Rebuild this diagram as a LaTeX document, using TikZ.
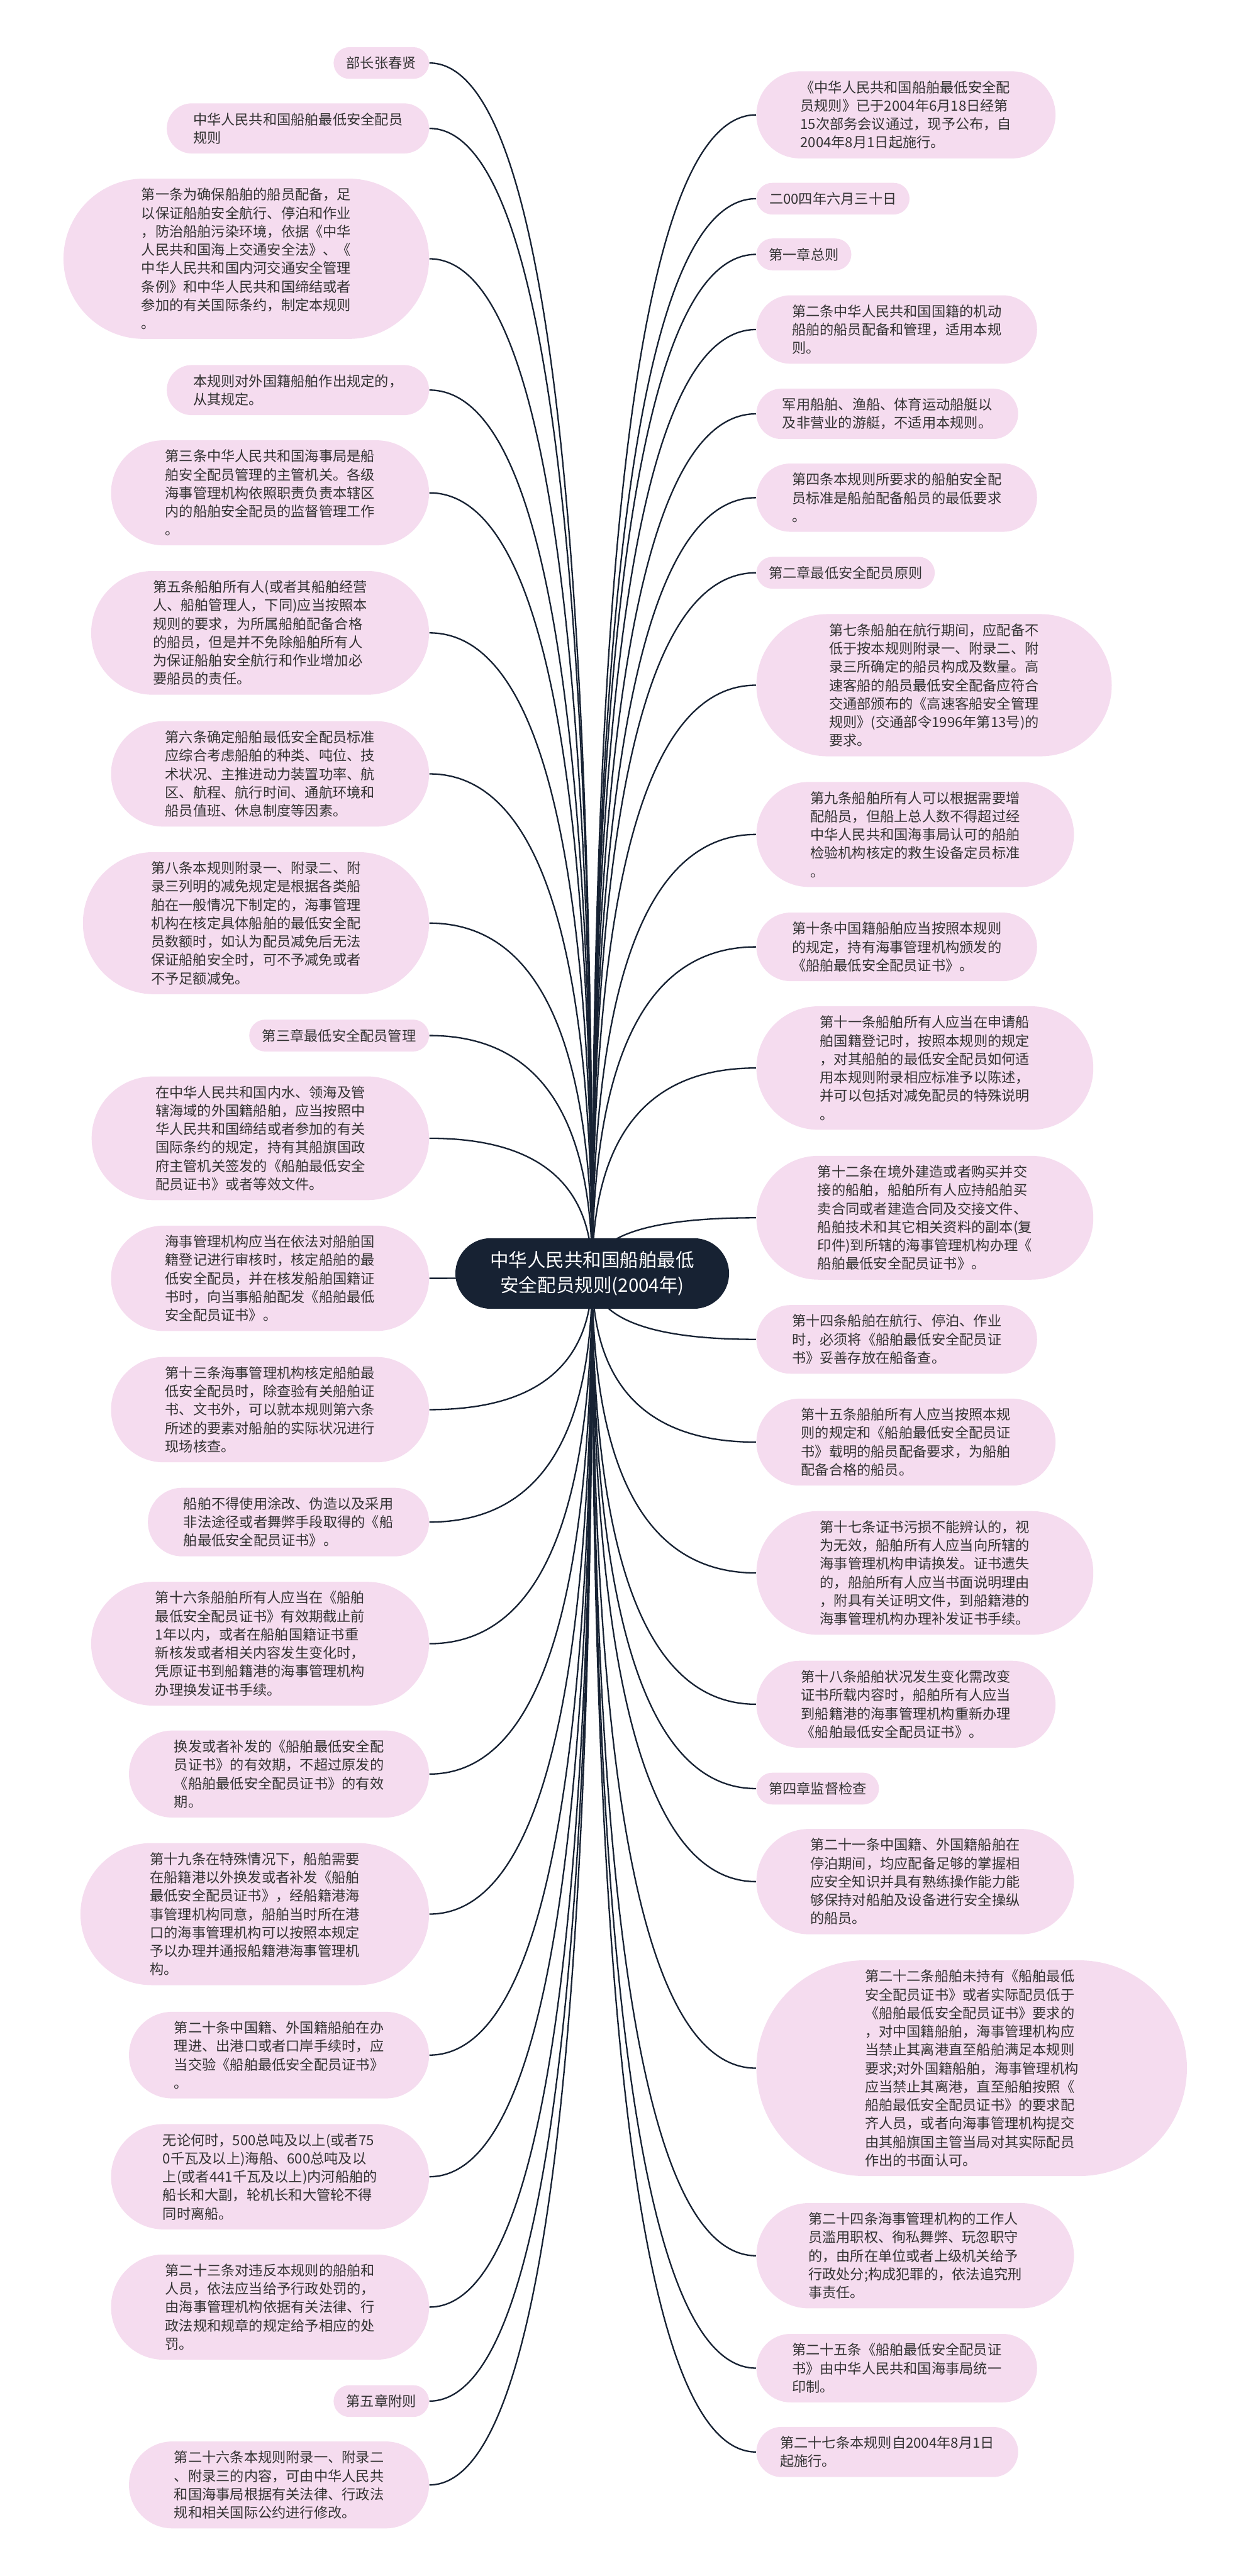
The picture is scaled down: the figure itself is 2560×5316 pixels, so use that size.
\documentclass[tikz,border=0pt]{standalone}
\usepackage{fontspec}
\setmainfont{Noto Sans CJK SC}
\usetikzlibrary{shapes.misc,backgrounds,calc}
\definecolor{mapNavy}{HTML}{172233}
\definecolor{mapPink}{HTML}{F5DCEF}
\definecolor{mapText}{HTML}{333333}
\tikzset{
  leaf/.style={rounded rectangle, fill=mapPink, text=mapText, align=left,
    font=\fontsize{8.2pt}{10.8pt}\selectfont, inner xsep=2.3pt, inner ysep=5.5pt},
  leftleaf/.style={leaf, anchor=east},
  rightleaf/.style={leaf, anchor=west},
  wd/.style={minimum width=#1cm},
  hub/.style={rounded rectangle, fill=mapNavy, text=white, align=center,
    font=\fontsize{10.9pt}{14.7pt}\selectfont, inner xsep=3.5pt, inner ysep=7.7pt,
    minimum width=5.89cm},
  link/.style={mapNavy, line width=0.85pt},
}

\begin{document}
\begin{tikzpicture}[x=0.01cm, y=-0.01cm, line cap=round, line join=round]
  \useasboundingbox (0,0) rectangle (2560,5316);

  % --- centre ---
  \node[hub] (root) at (1222,2628) {中华人民共和国船舶最低\\安全配员规则(2004年)};

  % --- left branch ---
  \node[leftleaf, wd=2.13] (l1) at (886,130) {部长张春贤};
  \node[leftleaf, wd=5.57] (l2) at (886,265) {中华人民共和国船舶最低安全配员\\规则};
  \node[leftleaf, wd=7.70] (l3) at (886,534) {第一条为确保船舶的船员配备，足\\以保证船舶安全航行、停泊和作业\\，防治船舶污染环境，依据《中华\\人民共和国海上交通安全法》、《\\中华人民共和国内河交通安全管理\\条例》和中华人民共和国缔结或者\\参加的有关国际条约，制定本规则\\。};
  \node[leftleaf, wd=5.57] (l4) at (886,805) {本规则对外国籍船舶作出规定的，\\从其规定。};
  \node[leftleaf, wd=6.72] (l5) at (886,1017) {第三条中华人民共和国海事局是船\\舶安全配员管理的主管机关。各级\\海事管理机构依照职责负责本辖区\\内的船舶安全配员的监督管理工作\\。};
  \node[leftleaf, wd=7.13] (l6) at (886,1306) {第五条船舶所有人(或者其船舶经营\\人、船舶管理人，下同)应当按照本\\规则的要求，为所属船舶配备合格\\的船员，但是并不免除船舶所有人\\为保证船舶安全航行和作业增加必\\要船员的责任。};
  \node[leftleaf, wd=6.72] (l7) at (886,1597) {第六条确定船舶最低安全配员标准\\应综合考虑船舶的种类、吨位、技\\术状况、主推进动力装置功率、航\\区、航程、航行时间、通航环境和\\船员值班、休息制度等因素。};
  \node[leftleaf, wd=7.30] (l8) at (886,1905) {第八条本规则附录一、附录二、附\\录三列明的减免规定是根据各类船\\舶在一般情况下制定的，海事管理\\机构在核定具体船舶的最低安全配\\员数额时，如认为配员减免后无法\\保证船舶安全时，可不予减免或者\\不予足额减免。};
  \node[leftleaf, wd=3.87] (l9) at (886,2137) {第三章最低安全配员管理};
  \node[leftleaf, wd=7.12] (l10) at (886,2349) {在中华人民共和国内水、领海及管\\辖海域的外国籍船舶，应当按照中\\华人民共和国缔结或者参加的有关\\国际条约的规定，持有其船旗国政\\府主管机关签发的《船舶最低安全\\配员证书》或者等效文件。};
  \node[leftleaf, wd=6.72] (l11) at (886,2638) {海事管理机构应当在依法对船舶国\\籍登记进行审核时，核定船舶的最\\低安全配员，并在核发船舶国籍证\\书时，向当事船舶配发《船舶最低\\安全配员证书》。};
  \node[leftleaf, wd=6.72] (l12) at (886,2909) {第十三条海事管理机构核定船舶最\\低安全配员时，除查验有关船舶证\\书、文书外，可以就本规则第六条\\所述的要素对船舶的实际状况进行\\现场核查。};
  \node[leftleaf, wd=5.96] (l13) at (886,3141) {船舶不得使用涂改、伪造以及采用\\非法途径或者舞弊手段取得的《船\\舶最低安全配员证书》。};
  \node[leftleaf, wd=7.13] (l14) at (886,3392) {第十六条船舶所有人应当在《船舶\\最低安全配员证书》有效期截止前\\1年以内，或者在船舶国籍证书重\\新核发或者相关内容发生变化时，\\凭原证书到船籍港的海事管理机构\\办理换发证书手续。};
  \node[leftleaf, wd=6.35] (l15) at (886,3661) {换发或者补发的《船舶最低安全配\\员证书》的有效期，不超过原发的\\《船舶最低安全配员证书》的有效\\期。};
  \node[leftleaf, wd=7.35] (l16) at (886,3950) {第十九条在特殊情况下，船舶需要\\在船籍港以外换发或者补发《船舶\\最低安全配员证书》，经船籍港海\\事管理机构同意，船舶当时所在港\\口的海事管理机构可以按照本规定\\予以办理并通报船籍港海事管理机\\构。};
  \node[leftleaf, wd=6.35] (l17) at (886,4241) {第二十条中国籍、外国籍船舶在办\\理进、出港口或者口岸手续时，应\\当交验《船舶最低安全配员证书》\\。};
  \node[leftleaf, wd=6.72] (l18) at (886,4492) {无论何时，500总吨及以上(或者75\\0千瓦及以上)海船、600总吨及以\\上(或者441千瓦及以上)内河船舶的\\船长和大副，轮机长和大管轮不得\\同时离船。};
  \node[leftleaf, wd=6.72] (l19) at (886,4761) {第二十三条对违反本规则的船舶和\\人员，依法应当给予行政处罚的，\\由海事管理机构依据有关法律、行\\政法规和规章的规定给予相应的处\\罚。};
  \node[leftleaf, wd=2.13] (l20) at (886,4955) {第五章附则};
  \node[leftleaf, wd=6.35] (l21) at (886,5128) {第二十六条本规则附录一、附录二\\、附录三的内容，可由中华人民共\\和国海事局根据有关法律、行政法\\规和相关国际公约进行修改。};

  % --- right branch ---
  \node[rightleaf, wd=6.33] (r1) at (1560,237) {《中华人民共和国船舶最低安全配\\员规则》已于2004年6月18日经第\\15次部务会议通过，现予公布，自\\2004年8月1日起施行。};
  \node[rightleaf, wd=3.32] (r2) at (1560,410) {二00四年六月三十日};
  \node[rightleaf, wd=2.12] (r3) at (1560,525) {第一章总则};
  \node[rightleaf, wd=5.95] (r4) at (1560,680) {第二条中华人民共和国国籍的机动\\船舶的船员配备和管理，适用本规\\则。};
  \node[rightleaf, wd=5.56] (r5) at (1560,854) {军用船舶、渔船、体育运动船艇以\\及非营业的游艇，不适用本规则。};
  \node[rightleaf, wd=5.95] (r6) at (1560,1027) {第四条本规则所要求的船舶安全配\\员标准是船舶配备船员的最低要求\\。};
  \node[rightleaf, wd=3.84] (r7) at (1560,1182) {第二章最低安全配员原则};
  \node[rightleaf, wd=7.49] (r8) at (1560,1414) {第七条船舶在航行期间，应配备不\\低于按本规则附录一、附录二、附\\录三所确定的船员构成及数量。高\\速客船的船员最低安全配备应符合\\交通部颁布的《高速客船安全管理\\规则》(交通部令1996年第13号)的\\要求。};
  \node[rightleaf, wd=6.71] (r9) at (1560,1722) {第九条船舶所有人可以根据需要增\\配船员，但船上总人数不得超过经\\中华人民共和国海事局认可的船舶\\检验机构核定的救生设备定员标准\\。};
  \node[rightleaf, wd=5.95] (r10) at (1560,1954) {第十条中国籍船舶应当按照本规则\\的规定，持有海事管理机构颁发的\\《船舶最低安全配员证书》。};
  \node[rightleaf, wd=7.11] (r11) at (1560,2204) {第十一条船舶所有人应当在申请船\\舶国籍登记时，按照本规则的规定\\，对其船舶的最低安全配员如何适\\用本规则附录相应标准予以陈述，\\并可以包括对减免配员的特殊说明\\。};
  \node[rightleaf, wd=7.11] (r12) at (1560,2513) {第十二条在境外建造或者购买并交\\接的船舶，船舶所有人应持船舶买\\卖合同或者建造合同及交接文件、\\船舶技术和其它相关资料的副本(复\\印件)到所辖的海事管理机构办理《\\船舶最低安全配员证书》。};
  \node[rightleaf, wd=5.95] (r13) at (1560,2764) {第十四条船舶在航行、停泊、作业\\时，必须将《船舶最低安全配员证\\书》妥善存放在船备查。};
  \node[rightleaf, wd=6.33] (r14) at (1560,2976) {第十五条船舶所有人应当按照本规\\则的规定和《船舶最低安全配员证\\书》载明的船员配备要求，为船舶\\配备合格的船员。};
  \node[rightleaf, wd=7.11] (r15) at (1560,3246) {第十七条证书污损不能辨认的，视\\为无效，船舶所有人应当向所辖的\\海事管理机构申请换发。证书遗失\\的，船舶所有人应当书面说明理由\\，附具有关证明文件，到船籍港的\\海事管理机构办理补发证书手续。};
  \node[rightleaf, wd=6.33] (r16) at (1560,3517) {第十八条船舶状况发生变化需改变\\证书所载内容时，船舶所有人应当\\到船籍港的海事管理机构重新办理\\《船舶最低安全配员证书》。};
  \node[rightleaf, wd=2.69] (r17) at (1560,3691) {第四章监督检查};
  \node[rightleaf, wd=6.71] (r18) at (1560,3883) {第二十一条中国籍、外国籍船舶在\\停泊期间，均应配备足够的掌握相\\应安全知识并具有熟练操作能力能\\够保持对船舶及设备进行安全操纵\\的船员。};
  \node[rightleaf, wd=9.04] (r19) at (1560,4268) {第二十二条船舶未持有《船舶最低\\安全配员证书》或者实际配员低于\\《船舶最低安全配员证书》要求的\\，对中国籍船舶，海事管理机构应\\当禁止其离港直至船舶满足本规则\\要求;对外国籍船舶，海事管理机构\\应当禁止其离港，直至船舶按照《\\船舶最低安全配员证书》的要求配\\齐人员，或者向海事管理机构提交\\由其船旗国主管当局对其实际配员\\作出的书面认可。};
  \node[rightleaf, wd=6.71] (r20) at (1560,4655) {第二十四条海事管理机构的工作人\\员滥用职权、徇私舞弊、玩忽职守\\的，由所在单位或者上级机关给予\\行政处分;构成犯罪的，依法追究刑\\事责任。};
  \node[rightleaf, wd=5.95] (r21) at (1560,4887) {第二十五条《船舶最低安全配员证\\书》由中华人民共和国海事局统一\\印制。};
  \node[rightleaf, wd=5.56] (r22) at (1560,5060) {第二十七条本规则自2004年8月1日\\起施行。};

  % --- connectors: one bend, all meeting in the centre of the root ---
  \begin{scope}[on background layer]
    \foreach \i in {1,...,21} {
      \coordinate (bend) at (l\i.east -| root.center);
      \draw[link] (l\i.east) .. controls ($(l\i.east)!2/3!(bend)$)
        and ($(root.center)!2/3!(bend)$) .. (root.center);
    }
    \foreach \i in {1,...,22} {
      \coordinate (bend) at (r\i.west -| root.center);
      \draw[link] (r\i.west) .. controls ($(r\i.west)!2/3!(bend)$)
        and ($(root.center)!2/3!(bend)$) .. (root.center);
    }
  \end{scope}
\end{tikzpicture}
\end{document}
